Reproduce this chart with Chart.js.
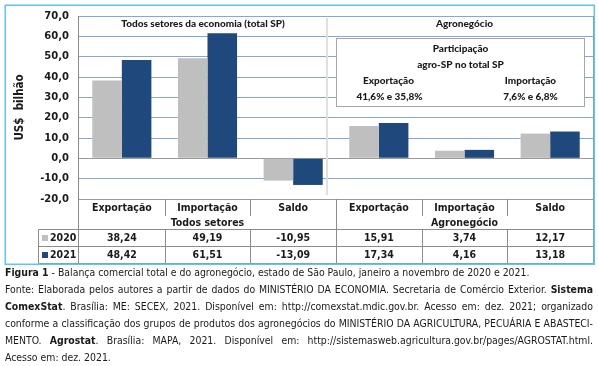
<!DOCTYPE html>
<html><head><meta charset="utf-8">
<script src="https://cdn.jsdelivr.net/npm/chart.js@4.4.1/dist/chart.umd.min.js"></script>
<style>
html,body{margin:0;padding:0;background:#fff;width:598px;height:366px;overflow:hidden}
#wrap{position:absolute;left:0;top:0;width:598px;height:266px}
#cap{position:absolute;left:5px;top:264px;width:588px;font-size:10.4px;line-height:17px;color:#1a1a1a}
#cap div{white-space:nowrap;text-align:justify;text-align-last:justify}
#cap div.l{text-align-last:left}
</style></head>
<body>
<div id="wrap"><canvas id="c" width="598" height="266"></canvas></div>
<div id="cap">
<div class="l"><b>Figura 1</b> - Balança comercial total e do agronegócio, estado de São Paulo, janeiro a novembro de 2020 e 2021.</div>
<div>Fonte: Elaborada pelos autores a partir de dados do MINISTÉRIO DA ECONOMIA. Secretaria de Comércio Exterior. <b>Sistema</b></div>
<div><b>ComexStat</b>. Brasília: ME: SECEX, 2021. Disponível em: http://comexstat.mdic.gov.br. Acesso em: dez. 2021; organizado</div>
<div>conforme a classificação dos grupos de produtos dos agronegócios do MINISTÉRIO DA AGRICULTURA, PECUÁRIA E ABASTECI-</div>
<div>MENTO. <b>Agrostat</b>. Brasília: MAPA, 2021. Disponível em: http://sistemasweb.agricultura.gov.br/pages/AGROSTAT.html.</div>
<div class="l">Acesso em: dez. 2021.</div>
</div>
<script>
const categories = ['Exportação','Importação','Saldo','Exportação','Importação','Saldo'];
const groups = ['Todos setores','Agronegócio'];
const seriesNames = ['2020','2021'];
const values2020 = [38.24, 49.19, -10.95, 15.91, 3.74, 12.17];
const values2021 = [48.42, 61.51, -13.09, 17.34, 4.16, 13.18];
const tableText2020 = ['38,24','49,19','-10,95','15,91','3,74','12,17'];
const tableText2021 = ['48,42','61,51','-13,09','17,34','4,16','13,18'];
const yTicks = [-20,-10,0,10,20,30,40,50,60,70];
const panelTitles = ['Todos setores da economia (total SP)','Agronegócio'];
const boxLines = ['Participação','agro-SP no total SP'];
const boxCols = [['Exportação','41,6% e 35,8%'],['Importação','7,6% e 6,8%']];

function avail(name){
  const c=document.createElement('canvas').getContext('2d');
  const s='mmmmmmmmmmlli10WwQ';
  c.font='72px monospace'; const a=c.measureText(s).width;
  c.font='72px "'+name+'", monospace'; const b=c.measureText(s).width;
  return a!==b;
}
const COND = avail('DejaVu Sans Condensed') ? '"DejaVu Sans Condensed"' : (avail('Liberation Sans Narrow') ? '"Liberation Sans Narrow"' : '"Liberation Sans"');
document.getElementById('cap').style.fontFamily = COND + ', "Liberation Sans", sans-serif';

const GRAY='#bfbfbf', BLUE='#1f487c', GRID='#86a8d8', LINE='#8c8c8c', TXT='#1a1a1a';
const CAL='900 10px Lato, sans-serif';

const deco = {
  id:'deco',
  afterDraw(chart){
    const {ctx, chartArea:ca, scales:{x,y}} = chart;
    const n = categories.length;
    const cw = (ca.right-ca.left)/n;
    const bnd = i => ca.left + i*cw;
    const yTop = ca.bottom, yG = 216, yR1 = 229.5, yR2 = 246.5, yB = 263.5, xL = 38.5;
    ctx.save();
    // separator between panels
    ctx.strokeStyle='#e0e0e0'; ctx.lineWidth=2;
    const sx = Math.round(x.getPixelForValue(2.4));
    ctx.beginPath(); ctx.moveTo(sx, ca.top+2); ctx.lineTo(sx, ca.bottom-4); ctx.stroke();
    // panel titles
    ctx.fillStyle=TXT; ctx.textAlign='center'; ctx.textBaseline='middle';
    ctx.font=CAL;
    ctx.fillText(panelTitles[0], (ca.left+sx)/2, 24);
    ctx.fillText(panelTitles[1], x.getPixelForValue(4), 24);
    // box
    const bx0 = Math.round(x.getPixelForValue(2.5))+0.5, bx1 = Math.round(x.getPixelForValue(5.4))+0.5;
    const by0 = Math.round(y.getPixelForValue(59.2))+0.5, by1 = Math.round(y.getPixelForValue(25.9))+0.5;
    ctx.fillStyle='#fff'; ctx.fillRect(bx0,by0,bx1-bx0,by1-by0);
    ctx.strokeStyle='#a6a6a6'; ctx.lineWidth=1; ctx.strokeRect(bx0,by0,bx1-bx0,by1-by0);
    ctx.fillStyle=TXT; ctx.font=CAL;
    const bc=(bx0+bx1)/2;
    ctx.fillText(boxLines[0], bc, by0+10.5);
    ctx.fillText(boxLines[1], bc, by0+26.5);
    ctx.fillText(boxCols[0][0], bx0+52, by0+42.5);
    ctx.fillText(boxCols[0][1], bx0+53, by0+58.5);
    ctx.fillText(boxCols[1][0], bx0+194, by0+42.5);
    ctx.fillText(boxCols[1][1], bx0+194, by0+58.5);
    // table lines
    ctx.strokeStyle=LINE; ctx.lineWidth=1;
    const L=(a,b,c,d)=>{ctx.beginPath();ctx.moveTo(a,b);ctx.lineTo(c,d);ctx.stroke();};
    const R = ca.right+0.5;
    L(ca.left-0.5, ca.top, ca.left-0.5, yB);
    L(R, ca.top, R, yB);
    L(xL, yR1, R, yR1); L(xL, yR2, R, yR2); L(xL, yB, R, yB);
    L(xL, yR1, xL, yB);
    for(let i=1;i<n;i++){
      const bx=Math.round(bnd(i))+0.5;
      if(i===3){ L(bx, yTop, bx, yB); }
      else { L(bx, yTop, bx, yG); L(bx, yR1, bx, yB); }
    }
    // table text
    ctx.fillStyle=TXT; ctx.font='bold 10.5px '+COND+', sans-serif'; ctx.textAlign='center';
    for(let i=0;i<n;i++){
      const cx = x.getPixelForValue(i);
      ctx.fillText(categories[i], cx, 208.5);
      ctx.fillText(tableText2020[i], cx, 238.5);
      ctx.fillText(tableText2021[i], cx, 255.5);
    }
    ctx.fillText(groups[0], x.getPixelForValue(1), 223.5);
    ctx.fillText(groups[1], x.getPixelForValue(4), 223.5);
    // legend keys
    ctx.textAlign='left';
    ctx.fillStyle=GRAY; ctx.fillRect(42,235,6,6);
    ctx.fillStyle=BLUE; ctx.fillRect(42,252,6,6);
    ctx.fillStyle=TXT;
    ctx.fillText(seriesNames[0], 50, 238.5);
    ctx.fillText(seriesNames[1], 50, 255.5);
    // outer frame
    ctx.strokeStyle='#5cc6f2'; ctx.lineWidth=1.5;
    ctx.strokeRect(5.25,5.25,589,259);
    ctx.restore();
  }
};

new Chart(document.getElementById('c'), {
  type:'bar',
  data:{
    labels:categories,
    datasets:[
      {label:seriesNames[0], data:values2020, backgroundColor:GRAY, borderWidth:0},
      {label:seriesNames[1], data:values2021, backgroundColor:BLUE, borderWidth:0}
    ]
  },
  options:{
    responsive:false, animation:false, devicePixelRatio:1,
    categoryPercentage:0.69, barPercentage:1.0,
    layout:{padding:{left:0,top:12,right:5,bottom:67}},
    plugins:{legend:{display:false}, tooltip:{enabled:false}},
    scales:{
      x:{display:false},
      y:{
        min:-20, max:70,
        afterFit(s){ s.width=79; },
        afterBuildTicks(s){ s.ticks = yTicks.map(v=>({value:v})); },
        ticks:{padding:10, color:TXT, font:{family:'"DejaVu Sans"', weight:'bold', size:10},
          callback:v=>v.toFixed(1).replace('.',',')},
        grid:{drawTicks:false, lineWidth:1,
          color:c=>(c.tick && (c.tick.value===0||c.tick.value===-20)) ? '#999999' : GRID},
        border:{display:false},
        title:{display:true, text:'US$  bilhão', color:TXT, padding:{top:13,bottom:0},
          font:{family:'"DejaVu Sans Condensed", "DejaVu Sans"', weight:'bold', size:11.5}}
      }
    }
  },
  plugins:[deco]
});
</script>
</body></html>
